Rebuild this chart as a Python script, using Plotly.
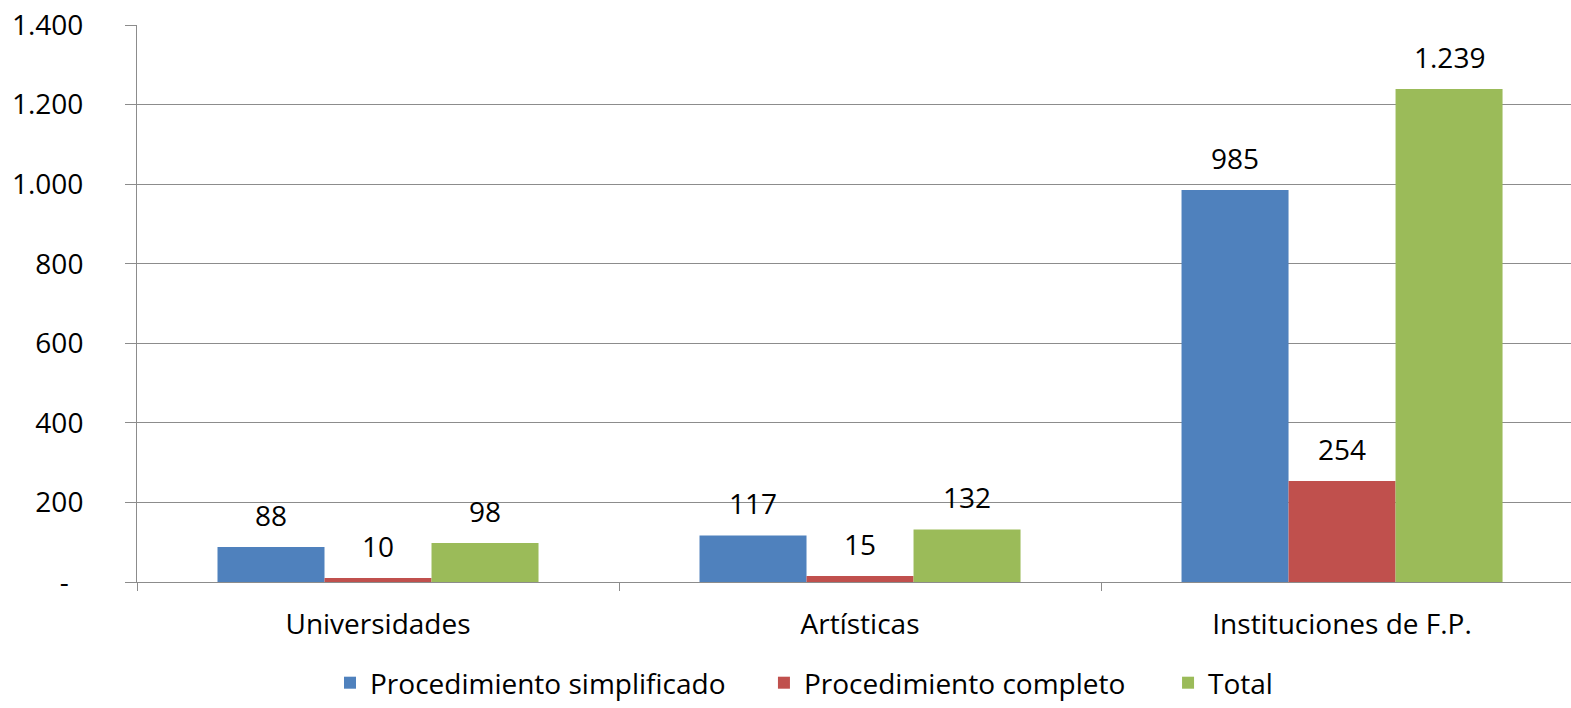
import plotly.graph_objects as go

categories = ["Universidades", "Artísticas", "Instituciones de F.P."]
series_names = ["Procedimiento simplificado", "Procedimiento completo", "Total"]
simplificado = [88, 117, 985]
completo = [10, 15, 254]
total = [98, 132, 1239]
y_tick_values = [0, 200, 400, 600, 800, 1000, 1200, 1400]
y_tick_labels = ["-\u00a0\u00a0", "200", "400", "600", "800", "1.000", "1.200", "1.400"]

colors = ["#4F81BD", "#C0504D", "#9BBB59"]
FONT = "Open Sans"
FS = 28
BARGAP = 0.334
legend_x = [0.1346, 0.4372, 0.719]


def fmt(v):
    return f"{v:,}".replace(",", ".")


fig = go.Figure()
all_series = [simplificado, completo, total]
legend_ids = ["legend", "legend2", "legend3"]
for name, vals, col, lid in zip(series_names, all_series, colors, legend_ids):
    fig.add_trace(go.Bar(
        x=categories, y=vals, name=name, legend=lid,
        marker=dict(color=col, line=dict(width=0)),
    ))

# value labels above each bar, placed at the bar centres of the group
w = (1 - BARGAP) / len(all_series)
for k, vals in enumerate(all_series):
    off = (k - (len(all_series) - 1) / 2) * w
    for i, v in enumerate(vals):
        fig.add_annotation(
            x=i + off, y=v, xref="x", yref="y",
            text=fmt(v), showarrow=False,
            yanchor="middle", yshift=32,
            font=dict(family=FONT, size=FS, color="#000000"),
        )

legend_style = dict(
    orientation="h", xanchor="left", y=0.0, yanchor="bottom",
    yref="container",
    font=dict(family=FONT, size=FS, color="#000000"),
    bgcolor="rgba(0,0,0,0)", borderwidth=0,
)
fig.update_layout(
    width=1571, height=708,
    margin=dict(l=137, r=0, t=25, b=126, autoexpand=False),
    paper_bgcolor="white", plot_bgcolor="white",
    barmode="group", bargap=BARGAP, bargroupgap=0,
    font=dict(family=FONT, size=FS, color="#000000"),
    showlegend=True,
    legend=dict(x=legend_x[0], **legend_style),
    legend2=dict(x=legend_x[1], **legend_style),
    legend3=dict(x=legend_x[2], **legend_style),
)

fig.update_xaxes(
    type="category", range=[-0.5, 2.475],
    tickson="boundaries", ticks="outside", ticklen=8, tickcolor="#8c8c8c",
    showline=True, linecolor="#8c8c8c", linewidth=1,
    showgrid=False, zeroline=False, automargin=False,
    tickfont=dict(family=FONT, size=FS, color="#000000"),
    ticklabelstandoff=17,
)
fig.update_yaxes(
    range=[0, 1400], tickvals=y_tick_values, ticktext=y_tick_labels,
    showgrid=True, gridcolor="#8c8c8c", gridwidth=1,
    showline=True, linecolor="#8c8c8c", linewidth=1,
    ticks="outside", ticklen=11, tickcolor="#8c8c8c",
    zeroline=False, automargin=False,
    tickfont=dict(family=FONT, size=FS, color="#000000"),
    ticklabelstandoff=36,
)

fig.write_html("out.html")
